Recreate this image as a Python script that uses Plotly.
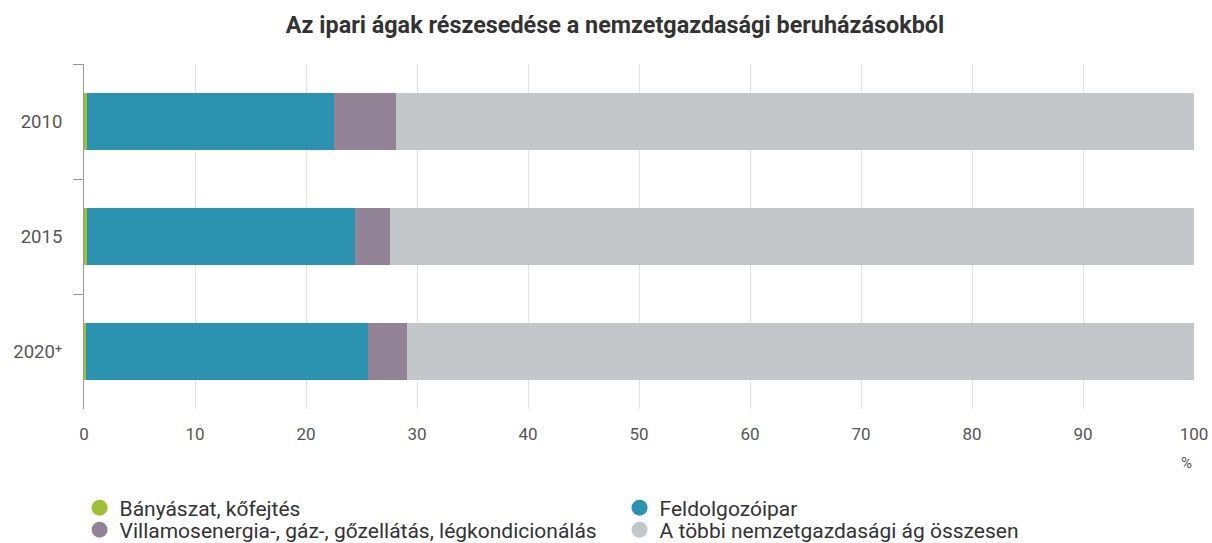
import plotly.graph_objects as go

years = ["2010", "2015", "2020⁺"]
series_names = [
    "Bányászat, kőfejtés",
    "Feldolgozóipar",
    "Villamosenergia-, gáz-, gőzellátás, légkondicionálás",
    "A többi nemzetgazdasági ág összesen",
]
banyaszat = [0.3, 0.3, 0.2]
feldolgozo = [22.2, 24.1, 25.4]
villamos = [5.6, 3.2, 3.5]
tobbi = [71.9, 72.4, 70.9]
colors = ["#a0be37", "#2b93b0", "#928496", "#c4c7ca"]
legend_rows = ["legend", "legend", "legend2", "legend2"]

values = [banyaszat, feldolgozo, villamos, tobbi]

fig = go.Figure()
for name, vals, col in zip(series_names, values, colors):
    fig.add_trace(go.Bar(
        y=years, x=vals, orientation="h", name=name,
        marker=dict(color=col, line=dict(width=0)),
        showlegend=False,
    ))
for name, col, lg in zip(series_names, colors, legend_rows):
    fig.add_trace(go.Scatter(
        x=[None], y=[None], mode="markers", name=name,
        marker=dict(color=col, size=18, symbol="circle"),
        showlegend=True, legend=lg,
    ))

legend_common = dict(
    orientation="h", x=-0.004, xanchor="left", yanchor="middle",
    entrywidth=495, entrywidthmode="pixels", traceorder="normal",
    font=dict(size=21, color="#333333", family="Roboto, sans-serif"),
    tracegroupgap=0, itemclick=False, itemdoubleclick=False,
    bgcolor="rgba(0,0,0,0)",
)
plot_h = 543 - 64 - 134

fig.update_layout(
    barmode="stack",
    bargap=0.51,
    width=1212, height=543,
    margin=dict(l=84, r=18, t=64, b=134, autoexpand=False),
    paper_bgcolor="white", plot_bgcolor="white",
    font=dict(family="Roboto, sans-serif", size=15, color="#555555"),
    title=dict(
        text="<b>Az ipari ágak részesedése a nemzetgazdasági beruházásokból</b>",
        x=615 / 1212, xref="container", xanchor="center",
        y=1 - 25 / 543, yref="container", yanchor="middle",
        font=dict(size=23.4, color="#333333"),
    ),
    legend=dict(legend_common, y=-(508 - 409) / plot_h),
    legend2=dict(legend_common, y=-(530 - 409) / plot_h),
    showlegend=True,
)
fig.update_xaxes(
    range=[0, 100], dtick=10, showgrid=True, gridcolor="#e3e3e3", gridwidth=1,
    zeroline=False, showline=False, ticks="", ticklabelstandoff=13,
    tickfont=dict(size=17, color="#555555"), fixedrange=True, automargin=False,
)
fig.update_yaxes(
    autorange="reversed", showline=True, linecolor="#999999", linewidth=1,
    ticks="outside", tickson="boundaries", ticklen=10, tickcolor="#999999",
    showgrid=False, ticklabelstandoff=17, automargin=False, fixedrange=True,
    tickfont=dict(size=18.5, color="#555555"),
)
fig.add_annotation(
    x=100, y=0, xref="x", yref="paper", text="%", showarrow=False,
    xanchor="center", yanchor="middle",
    yshift=-54, xshift=-8, font=dict(size=15, color="#555555"),
)

fig.write_html(
    "out.html",
    config={"displayModeBar": False},
    post_script="document.body.style.margin='0';document.body.style.overflow='hidden';",
)
